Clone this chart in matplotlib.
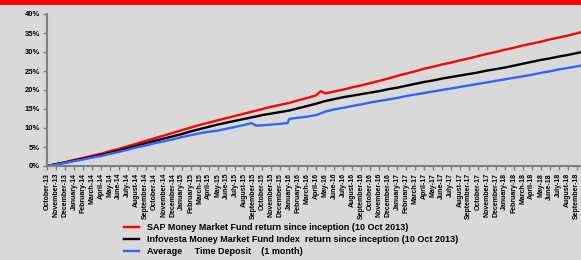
import matplotlib
matplotlib.use("Agg")
import matplotlib.pyplot as plt
from matplotlib.patches import Rectangle

# Eje X: meses desde octubre 2013 (indice 0) hasta septiembre 2018
month_labels = ["October-13", "November-13", "December-13",
                "January-14", "February-14", "March-14", "April-14", "May-14", "June-14",
                "July-14", "August-14", "September-14", "October-14", "November-14", "December-14",
                "January-15", "February-15", "March-15", "April-15", "May-15", "June-15",
                "July-15", "August-15", "September-15", "October-15", "November-15", "December-15",
                "January-16", "February-16", "March-16", "April-16", "May-16", "June-16",
                "July-16", "August-16", "September-16", "October-16", "November-16", "December-16",
                "January-17", "February-17", "March-17", "April-17", "May-17", "June-17",
                "July-17", "August-17", "September-17", "October-17", "November-17", "December-17",
                "January-18", "February-18", "March-18", "April-18", "May-18", "June-18",
                "July-18", "August-18", "September-18"]

# Rendimiento acumulado (%)
red_x = [0, 1, 2, 3, 4, 5, 6, 7, 8, 9, 10, 11, 12, 13, 14, 15, 16, 17, 18, 19, 20,
         21, 22, 23, 24, 25, 26, 27, 28, 29, 30, 30.5, 31, 32, 33, 34, 35, 36, 37, 38, 39,
         40, 41, 42, 43, 44, 45, 46, 47, 48, 49, 50, 51, 52, 53, 54, 55, 56, 57, 58, 59, 60]
red_y = [0, 0.5, 1.0, 1.6, 2.1, 2.7, 3.2, 3.9, 4.5, 5.2, 5.9, 6.6, 7.3, 8.0, 8.7, 9.4,
         10.1, 10.8, 11.4, 12.0, 12.6, 13.2, 13.8, 14.4, 15.0, 15.6, 16.1, 16.6, 17.3,
         17.9, 18.6, 19.7, 19.1, 19.6, 20.1, 20.7, 21.2, 21.8, 22.4, 23.0, 23.7, 24.3,
         24.9, 25.6, 26.1, 26.7, 27.2, 27.8, 28.3, 28.9, 29.5, 30.0, 30.6, 31.1, 31.7,
         32.2, 32.7, 33.3, 33.8, 34.3, 34.9, 35.5]

black_x = list(range(61))
black_y = [0, 0.5, 0.9, 1.4, 1.9, 2.4, 2.9, 3.5, 4.1, 4.7, 5.3, 6.0, 6.6, 7.2, 7.8, 8.4,
           9.1, 9.7, 10.3, 10.9, 11.4, 11.9, 12.4, 12.9, 13.4, 13.8, 14.2, 14.6, 15.2,
           15.8, 16.4, 17.1, 17.6, 18.1, 18.5, 18.9, 19.3, 19.7, 20.2, 20.6, 21.1, 21.6,
           22.1, 22.5, 23.0, 23.4, 23.8, 24.2, 24.6, 25.1, 25.5, 25.9, 26.4, 26.9, 27.4,
           27.9, 28.3, 28.8, 29.2, 29.7, 30.2]

blue_x = [0, 1, 2, 3, 4, 5, 6, 7, 8, 9, 10, 11, 12, 13, 14, 15, 16, 17, 18, 19, 20,
          21, 22, 22.8, 23.3, 24, 25, 26, 26.8, 27.0, 28, 29, 30, 31, 32, 33, 34, 35, 36,
          37, 38, 39, 40, 41, 42, 43, 44, 45, 46, 47, 48, 49, 50, 51, 52, 53, 54, 55, 56,
          57, 58, 59, 60]
blue_y = [0, 0.4, 0.8, 1.3, 1.7, 2.2, 2.6, 3.2, 3.7, 4.3, 4.9, 5.4, 6.0, 6.5, 7.0, 7.6,
          8.1, 8.6, 9.0, 9.3, 9.8, 10.3, 10.8, 11.3, 10.6, 10.7, 10.9, 11.1, 11.3, 12.4,
          12.7, 13.0, 13.4, 14.3, 14.9, 15.3, 15.8, 16.2, 16.7, 17.1, 17.5, 17.9, 18.4,
          18.8, 19.2, 19.6, 20.0, 20.4, 20.8, 21.2, 21.6, 22.0, 22.4, 22.8, 23.2, 23.6,
          24.0, 24.5, 24.9, 25.4, 25.8, 26.2, 26.6]

y_ticks = [0, 5, 10, 15, 20, 25, 30, 35, 40]

legend_labels = ["SAP Money Market Fund return since inception (10 Oct 2013)",
                 "Infovesta Money Market Fund Index  return since inception (10 Oct 2013)",
                 "Average     Time Deposit    (1 month)"]

bg = "#D9D9D9"
plt.rcParams["font.family"] = ["Liberation Sans", "DejaVu Sans"]

fig = plt.figure(figsize=(5.81, 2.60), dpi=100, facecolor=bg)
ax = fig.add_axes([47 / 581, 1 - 166 / 260, 1 - 47 / 581, (166 - 14) / 260])
ax.set_facecolor(bg)

# banda roja del titulo (cortado)
fig.patches.append(Rectangle((0, 1 - 5 / 260), 1, 5 / 260, transform=fig.transFigure,
                             facecolor="#FF0000", edgecolor="none"))

l1, = ax.plot(red_x, red_y, color="#FF0000", lw=1.7)
l2, = ax.plot(black_x, black_y, color="black", lw=1.7)
l3, = ax.plot(blue_x, blue_y, color="#3366FF", lw=1.7)

ax.set_xlim(0, 59.5)
ax.set_ylim(0, 40)
ax.set_yticks(y_ticks)
ax.set_yticklabels([f"{v}%" for v in y_ticks], fontsize=5.5, fontweight="bold")
ax.set_xticks(range(len(month_labels)))
ax.set_xticklabels(month_labels, rotation=90, fontsize=5, fontweight="bold")

for s in ["top", "right"]:
    ax.spines[s].set_visible(False)
for s in ["left", "bottom"]:
    ax.spines[s].set_color("#808080")
    ax.spines[s].set_linewidth(1.5)
ax.tick_params(axis="both", colors="#808080", length=3, width=1, pad=2, labelcolor="black")

fig.legend([l1, l2, l3], legend_labels, loc="upper left",
           bbox_to_anchor=(124 / 581, 1 - 223 / 260), frameon=False,
           prop={"size": 6.5, "weight": "bold"}, handlelength=1.7, handletextpad=0.9,
           labelspacing=0.35, borderpad=0, borderaxespad=0)

fig.savefig("out.png", dpi=100, facecolor=bg)
